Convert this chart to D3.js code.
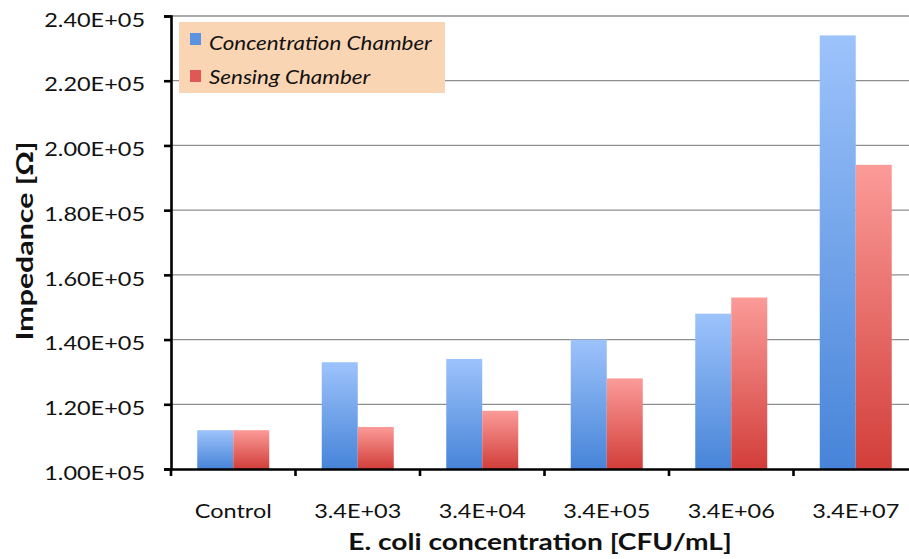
<!DOCTYPE html>
<html>
<head>
<meta charset="utf-8">
<script src="https://cdn.jsdelivr.net/npm/d3@7"></script>
<style>
  body { margin: 0; background: #fff; }
  text { font-family: Lato, "Open Sans", sans-serif; fill: #111; }
</style>
</head>
<body>
<svg id="chart"></svg>
<script>
// impedance vs E. coli concentration
const categories = ["Control", "3.4E+03", "3.4E+04", "3.4E+05", "3.4E+06", "3.4E+07"];
const seriesNames = ["Concentration Chamber", "Sensing Chamber"];
const concentrationChamber = [112000, 133000, 134000, 140000, 148000, 234000];
const sensingChamber = [112000, 113000, 118000, 128000, 153000, 194000];
const yTicks = [100000, 120000, 140000, 160000, 180000, 200000, 220000, 240000];

var W = 909, H = 559;
var plotLeft = 171, plotTop = 16, plotBottom = 469, plotRight = 918;
var SX = 1.27; // the original picture is stretched sideways

const svg = d3.select("#chart").attr("width", W).attr("height", H);

const defs = svg.append("defs");
function grad(id, c1, c2) {
  const g = defs.append("linearGradient").attr("id", id)
    .attr("x1", 0).attr("y1", 0).attr("x2", 0).attr("y2", 1);
  g.append("stop").attr("offset", "0%").attr("stop-color", c1);
  g.append("stop").attr("offset", "100%").attr("stop-color", c2);
}
grad("gBlue", "#9dc3fb", "#4784d8");
grad("gRed", "#fb9b98", "#d23e3a");
const fills = ["url(#gBlue)", "url(#gRed)"];
const swatch = ["#5b93e0", "#e05855"];

const x0 = d3.scaleBand().domain(categories).range([plotLeft, plotRight]);
const bw = x0.bandwidth();
const x1 = d3.scaleBand().domain(seriesNames).range([bw / 2 - 36, bw / 2 + 36]);
const y = d3.scaleLinear().domain([100000, 240000]).range([plotBottom, plotTop]);

function sci(v) {
  const e = Math.floor(Math.log10(v));
  return (v / Math.pow(10, e)).toFixed(2) + "E+" + String(e).padStart(2, "0");
}

function stretch(sel) {
  sel.attr("transform", function() {
    const x = +this.getAttribute("x") || 0;
    return `translate(${x * (1 - SX)},0) scale(${SX},1)`;
  });
}

// grid
svg.append("g").selectAll("line").data(yTicks.slice(1)).enter().append("line")
  .attr("x1", plotLeft).attr("x2", W)
  .attr("y1", d => y(d)).attr("y2", d => y(d))
  .attr("stroke", "#8f8f8f").attr("stroke-width", 1.3);

// bars
const data = categories.map((c, i) => ({cat: c, vals: [concentrationChamber[i], sensingChamber[i]]}));
svg.append("g").selectAll("g").data(data).enter().append("g")
  .attr("transform", d => `translate(${x0(d.cat)},0)`)
  .selectAll("rect").data(d => d.vals.map((v, j) => ({s: seriesNames[j], v: v, j: j})))
  .enter().append("rect")
  .attr("x", d => x1(d.s))
  .attr("width", x1.bandwidth())
  .attr("y", d => y(d.v))
  .attr("height", d => plotBottom - y(d.v))
  .attr("fill", d => fills[d.j]);

// y axis
const yAxis = svg.append("g").attr("transform", `translate(${plotLeft},0)`)
  .call(d3.axisLeft(y).tickValues(yTicks).tickFormat(sci).tickSize(7).tickPadding(19));
yAxis.select(".domain").attr("stroke", "#000").attr("stroke-width", 2.6);
yAxis.selectAll(".tick line").attr("stroke", "#000").attr("stroke-width", 2.6);
yAxis.selectAll(".tick text").attr("font-size", 18.5).attr("font-family", "Lato").attr("fill", "#111")
  .attr("dy", "0.55em").call(stretch);

// x axis
const xAxis = svg.append("g").attr("transform", `translate(0,${plotBottom})`)
  .call(d3.axisBottom(x0).tickSize(0).tickPadding(49));
xAxis.select(".domain").attr("stroke", "#000").attr("stroke-width", 2.6);
xAxis.selectAll(".tick text").attr("font-size", 18.5).attr("font-family", "Lato").attr("fill", "#111")
  .attr("dy", "0").call(stretch);
xAxis.selectAll("line.edge").data(categories).enter().append("line")
  .attr("class", "edge")
  .attr("x1", d => x0(d)).attr("x2", d => x0(d))
  .attr("y1", 0).attr("y2", 7)
  .attr("stroke", "#000").attr("stroke-width", 2.6);

// titles
svg.append("text")
  .attr("transform", `translate(540,550) scale(1.28,1)`)
  .attr("text-anchor", "middle")
  .attr("font-size", 22).attr("font-weight", "bold")
  .text("E. coli concentration [CFU/mL]");

svg.append("text")
  .attr("transform", `translate(33,241) rotate(-90) scale(1.38,1)`)
  .attr("text-anchor", "middle")
  .attr("font-size", 22).attr("font-weight", "bold")
  .text("Impedance [\u03A9]");

// legend
const leg = svg.append("g");
leg.append("rect").attr("x", 179).attr("y", 22).attr("width", 266).attr("height", 71)
  .attr("fill", "#fad5b4");
seriesNames.forEach((s, i) => {
  leg.append("rect").attr("x", 190).attr("y", 33 + i * 37).attr("width", 11).attr("height", 12)
    .attr("fill", swatch[i]);
  leg.append("text").attr("x", 0).attr("y", 0)
    .attr("transform", `translate(209,${50 + i * 34}) scale(1.18,1)`)
    .attr("font-size", 19).attr("font-style", "italic")
    .text(s);
});
</script>
</body>
</html>
